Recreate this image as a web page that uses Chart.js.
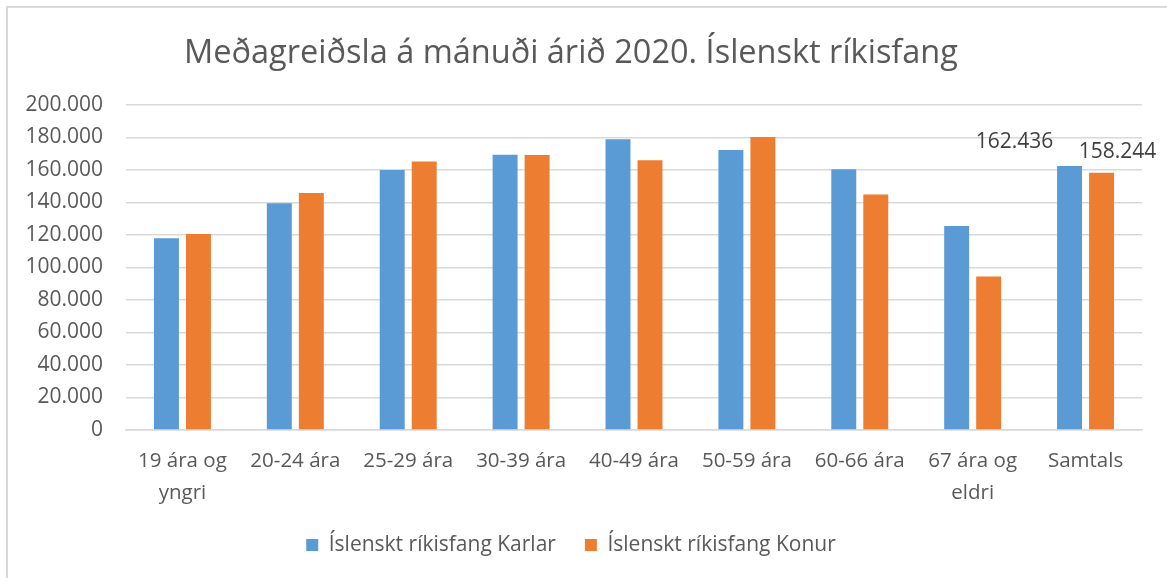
<!DOCTYPE html>
<html>
<head>
<meta charset="utf-8">
<script src="https://cdn.jsdelivr.net/npm/chart.js@4/dist/chart.umd.min.js"></script>
<style>
  body { margin: 0; background: #fff; overflow: hidden; }
  #frame { position: absolute; left: 6px; top: 6px; width: 1300px; height: 700px;
           border-left: 2px solid #d9d9d9; border-top: 2px solid #d9d9d9; }
  #wrap { position: absolute; left: 0; top: 0; width: 1167px; height: 578px; }
</style>
</head>
<body>
<div id="frame"></div>
<div id="wrap"><canvas id="chart"></canvas></div>
<script>
// Gögn lesin af myndinni
const flokkar = [
  ['19 ára og', 'yngri'], '20-24 ára', '25-29 ára', '30-39 ára', '40-49 ára',
  '50-59 ára', '60-66 ára', ['67 ára og', 'eldri'], 'Samtals'
];
const karlar = [118000, 139500, 160000, 169400, 179000, 172300, 160400, 125600, 162436];
const konur = [120600, 145800, 165300, 169200, 166000, 180300, 145000, 94400, 158244];
const yTicks = [0, 20000, 40000, 60000, 80000, 100000, 120000, 140000, 160000, 180000, 200000];

const FONT = "'Open Sans', 'Noto Sans', sans-serif";
const fmt = v => String(v).replace(/\B(?=(\d{3})+(?!\d))/g, '.');

// gildismerki fyrir Samtals (fyrra merkið er fært til vinstri eins og á myndinni)
const samtalsMerki = {
  id: 'samtalsMerki',
  afterDatasetsDraw(chart) {
    const ctx = chart.ctx;
    const i = flokkar.length - 1;
    const offsets = [[-55, -24], [16, -21]];
    ctx.save();
    ctx.font = '21px ' + FONT;
    ctx.fillStyle = '#404040';
    ctx.textAlign = 'center';
    ctx.textBaseline = 'middle';
    chart.data.datasets.forEach((ds, d) => {
      const bar = chart.getDatasetMeta(d).data[i];
      ctx.fillText(fmt(ds.data[i]), bar.x + offsets[d][0], bar.y + offsets[d][1]);
    });
    ctx.restore();
  }
};

new Chart(document.getElementById('chart'), {
  type: 'bar',
  data: {
    labels: flokkar,
    datasets: [
      { label: 'Íslenskt ríkisfang Karlar', data: karlar, backgroundColor: '#5b9bd5' },
      { label: 'Íslenskt ríkisfang Konur', data: konur, backgroundColor: '#ed7d31' }
    ]
  },
  options: {
    responsive: true,
    maintainAspectRatio: false,
    animation: false,
    categoryPercentage: 0.567,
    barPercentage: 0.78,
    layout: { padding: { left: 0, right: 25, top: 0, bottom: 12.5 } },
    plugins: {
      title: {
        display: true,
        text: 'Meðagreiðsla á mánuði árið 2020. Íslenskt ríkisfang',
        color: '#595959',
        font: { family: FONT, size: 32.5, weight: 'normal' },
        padding: { top: 34, bottom: 32 }
      },
      legend: {
        position: 'bottom',
        labels: {
          color: '#595959',
          font: { family: FONT, size: 21 },
          boxWidth: 12, boxHeight: 12,
          padding: 29
        }
      },
      tooltip: { enabled: false }
    },
    scales: {
      x: {
        grid: { display: false, drawTicks: false },
        border: { color: '#d9d9d9', width: 1.5 },
        ticks: { color: '#595959', font: { family: FONT, size: 20.5, lineHeight: 1.56 }, padding: 15, maxRotation: 0 },
        afterFit: s => { s.height = 75.5; }
      },
      y: {
        min: 0, max: 200000,
        afterBuildTicks: s => { s.ticks = yTicks.map(v => ({ value: v })); },
        grid: { color: '#d9d9d9', lineWidth: 1.5, drawTicks: false },
        border: { display: false },
        ticks: { color: '#595959', font: { family: FONT, size: 21 }, padding: 23, callback: v => fmt(v) },
        afterFit: s => { s.width = 126; }
      }
    }
  },
  plugins: [samtalsMerki]
});
</script>
</body>
</html>
